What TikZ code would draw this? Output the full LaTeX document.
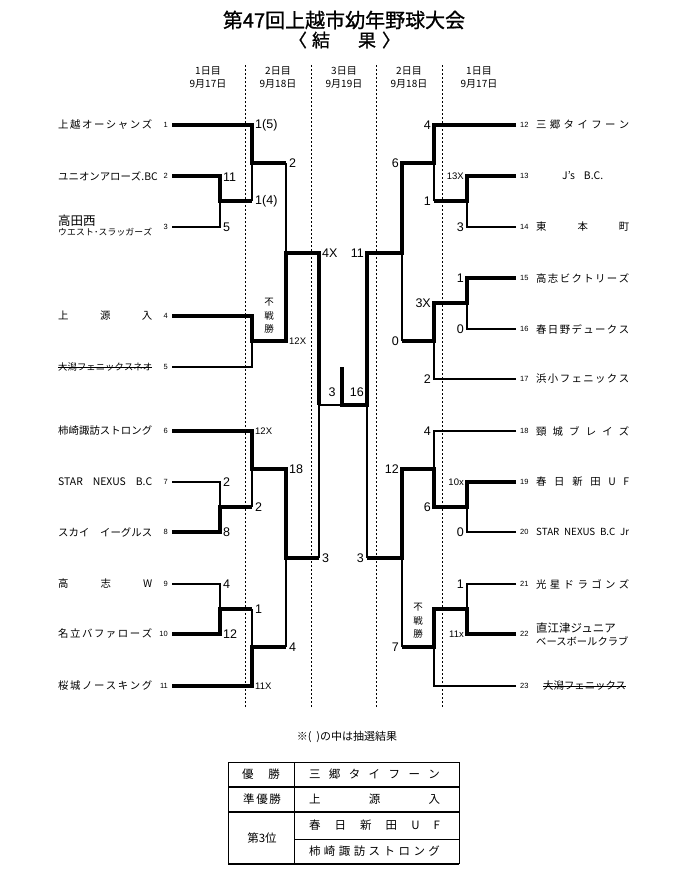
\documentclass[tikz,border=0pt]{standalone}
\usepackage{fontspec}
\setmainfont{Noto Sans CJK JP}
\newfontfamily\titlefont[FakeBold=1]{Noto Sans CJK JP}
\newfontfamily\digitfont{Liberation Sans}
\usetikzlibrary{calc}
\let\spreadend\relax
\newcommand\spreadbox[2]{\hbox to #1{\spreadnext#2\spreadend}}
\def\spreadnext#1#2\spreadend{#1\ifx\spreadend#2\spreadend\else\hfil\spreadnext#2\spreadend\fi}
\tikzset{%
    win/.style={line width=4.6pt},
    lose/.style={line width=1.2pt},
    guide/.style={line width=1pt,dash pattern=on 1.6pt off 2.4pt}
}

\begin{document}
\begin{tikzpicture}[x=1pt,y=-1pt,
        tname/.style={inner sep=0pt,font=\fontsize{10.4}{12}\selectfont},
        tnum/.style={inner sep=0pt,font=\digitfont\fontsize{7.5}{8}\selectfont},
        score/.style={inner ysep=1.5pt,inner xsep=3pt,font=\digitfont\fontsize{12.5}{13}\selectfont},
        sscore/.style={inner ysep=1.5pt,inner xsep=3pt,font=\digitfont\fontsize{9.5}{10}\selectfont},
        day/.style={align=center,font=\fontsize{10}{13}\selectfont},
        bye/.style={align=center,inner sep=0pt,font=\fontsize{9.5}{13.5}\selectfont},
        cell/.style={inner sep=0pt,font=\fontsize{11.5}{12}\selectfont},
        strike/.style={line width=0.9pt},
        tthin/.style={line width=0.9pt},
        tthick/.style={line width=1.8pt}
        ]
        \fill[white] (0,0) rectangle (692,873);
        \useasboundingbox (0,0) rectangle (692,873);

        % title
        \node[font=\titlefont\fontsize{20}{20}\selectfont] (title) at (344,20) {第47回上越市幼年野球大会};
        \node[font=\titlefont\fontsize{18}{18}\selectfont] (subtitle) at (344.5,40) {\hbox to 111pt{〈\hskip 5pt 結\hfil 果\hskip 6pt 〉}};

        \node[day] (d1) at (208,78) {1日目\\9月17日};
        \node[day] (d2) at (278,78) {2日目\\9月18日};
        \node[day] (d3) at (344,78) {3日目\\9月19日};
        \node[day] (d4) at (409,78) {2日目\\9月18日};
        \node[day] (d5) at (479,78) {1日目\\9月17日};

        \draw[guide] (245,65) -- (245,708);
        \draw[guide] (311,65) -- (311,708);
        \draw[guide] (376,65) -- (376,708);
        \draw[guide] (442,65) -- (442,708);

        % left teams
        \node[tname,anchor=west] (n1) at (58,125) {\spreadbox{94pt}{上越オーシャンズ}};
        \node[tname,anchor=west] (n2) at (58,176) {\spreadbox{94pt}{ユニオンアローズ{{.BC}}}};
        \node[tname,anchor=west,font=\fontsize{12.5}{12}\selectfont] (n3) at (58,221) {高田西};
        \node[tname,anchor=west,font=\fontsize{8.8}{9}\selectfont] (n3b) at (58,232) {\spreadbox{94pt}{ウエスト･スラッガーズ}};
        \node[tname,anchor=west] (n4) at (58,316) {\spreadbox{94pt}{上源入}};
        \node[tname,anchor=west,font=\fontsize{9.3}{10}\selectfont] (n5) at (58,367) {\spreadbox{94pt}{大潟フェニックスネオ}};
        \node[tname,anchor=west] (n6) at (58,431) {\spreadbox{94pt}{柿崎諏訪ストロング}};
        \node[tname,anchor=west] (n7) at (58,482) {\hbox to 94pt{STAR\hfil NEXUS\hfil B.C}};
        \node[tname,anchor=west] (n8) at (58,532) {\hbox to 94pt{スカイ\hfil イーグルス}};
        \node[tname,anchor=west] (n9) at (58,584) {\spreadbox{94pt}{高志W}};
        \node[tname,anchor=west] (n10) at (58,634) {\spreadbox{94pt}{名立バファローズ}};
        \node[tname,anchor=west] (n11) at (58,686) {\spreadbox{94pt}{桜城ノースキング}};
        \draw[strike] (n5.west) -- (n5.east);

        \node[tnum,anchor=east] (k1) at (168,125) {1};
        \node[tnum,anchor=east] (k2) at (168,176) {2};
        \node[tnum,anchor=east] (k3) at (168,227) {3};
        \node[tnum,anchor=east] (k4) at (168,316) {4};
        \node[tnum,anchor=east] (k5) at (168,367) {5};
        \node[tnum,anchor=east] (k6) at (168,431) {6};
        \node[tnum,anchor=east] (k7) at (168,482) {7};
        \node[tnum,anchor=east] (k8) at (168,532) {8};
        \node[tnum,anchor=east] (k9) at (168,584) {9};
        \node[tnum,anchor=east] (k10) at (168,634) {10};
        \node[tnum,anchor=east] (k11) at (168,686) {11};

        % right teams
        \node[tname,anchor=west] (n12) at (536,125) {\spreadbox{93pt}{三郷タイフーン}};
        \node[tname,anchor=west] (n13) at (536,176) {\hbox to 93pt{\hfil J's\hskip 9pt B.C.\hfil}};
        \node[tname,anchor=west] (n14) at (536,227) {\spreadbox{93pt}{東本町}};
        \node[tname,anchor=west] (n15) at (536,278) {\spreadbox{93pt}{高志ビクトリーズ}};
        \node[tname,anchor=west] (n16) at (536,329) {\spreadbox{93pt}{春日野デュークス}};
        \node[tname,anchor=west] (n17) at (536,379) {\spreadbox{93pt}{浜小フェニックス}};
        \node[tname,anchor=west] (n18) at (536,431) {\spreadbox{93pt}{頸城ブレイズ}};
        \node[tname,anchor=west] (n19) at (536,482) {\spreadbox{93pt}{春日新田UF}};
        \node[tname,anchor=west,font=\fontsize{9.8}{10}\selectfont] (n20) at (536,532) {\hbox to 93pt{STAR\hfil NEXUS\hfil B.C\hfil Jr}};
        \node[tname,anchor=west] (n21) at (536,584) {\spreadbox{93pt}{光星ドラゴンズ}};
        \node[tname,anchor=west,font=\fontsize{11.5}{11}\selectfont] (n22) at (536,628) {直江津ジュニア};
        \node[tname,anchor=west,font=\fontsize{10.3}{11}\selectfont] (n22b) at (536,641) {ベースボールクラブ};
        \node[tname,anchor=west] (n23) at (543,686) {大潟フェニックス};
        \draw[strike] (n23.west) -- (n23.east);

        \node[tnum,anchor=west] (k12) at (520,125) {12};
        \node[tnum,anchor=west] (k13) at (520,176) {13};
        \node[tnum,anchor=west] (k14) at (520,227) {14};
        \node[tnum,anchor=west] (k15) at (520,278) {15};
        \node[tnum,anchor=west] (k16) at (520,329) {16};
        \node[tnum,anchor=west] (k17) at (520,379) {17};
        \node[tnum,anchor=west] (k18) at (520,431) {18};
        \node[tnum,anchor=west] (k19) at (520,482) {19};
        \node[tnum,anchor=west] (k20) at (520,532) {20};
        \node[tnum,anchor=west] (k21) at (520,584) {21};
        \node[tnum,anchor=west] (k22) at (520,634) {22};
        \node[tnum,anchor=west] (k23) at (520,686) {23};

        % line ends and junctions
        \coordinate (L1) at (172,125);
        \coordinate (L2) at (172,176);
        \coordinate (L3) at (172,227);
        \coordinate (L4) at (172,316);
        \coordinate (L5) at (172,367);
        \coordinate (L6) at (172,431);
        \coordinate (L7) at (172,482);
        \coordinate (L8) at (172,532);
        \coordinate (L9) at (172,584);
        \coordinate (L10) at (172,634);
        \coordinate (L11) at (172,686);
        \coordinate (R12) at (516,125);
        \coordinate (R13) at (516,176);
        \coordinate (R14) at (516,227);
        \coordinate (R15) at (516,278);
        \coordinate (R16) at (516,329);
        \coordinate (R17) at (516,379);
        \coordinate (R18) at (516,431);
        \coordinate (R19) at (516,482);
        \coordinate (R20) at (516,532);
        \coordinate (R21) at (516,584);
        \coordinate (R22) at (516,634);
        \coordinate (R23) at (516,686);

        \coordinate (a23) at (220,201);
        \coordinate (b1) at (252,163);
        \coordinate (b45) at (252,341);
        \coordinate (c1) at (286,253);
        \coordinate (a78) at (220,507);
        \coordinate (b6) at (252,469);
        \coordinate (a910) at (220,609);
        \coordinate (b11) at (252,647);
        \coordinate (c2) at (286,558);
        \coordinate (sL) at (319,405);
        \coordinate (fin) at (342,405);
        \coordinate (top) at (342,367);
        \coordinate (sR) at (367,405);
        \coordinate (c3) at (402,253);
        \coordinate (b12) at (434,163);
        \coordinate (a1314) at (467,201);
        \coordinate (a1516) at (467,303);
        \coordinate (b17) at (434,341);
        \coordinate (c4) at (402,558);
        \coordinate (b18) at (434,469);
        \coordinate (a1920) at (467,507);
        \coordinate (a2122) at (467,609);
        \coordinate (b23) at (434,647);

        % losers
        \draw[lose] (L3) -| (a23);
        \draw[lose] (a23 -| b1) -- (b1);
        \draw[lose] (b1 -| c1) -- (c1);
        \draw[lose] (L5) -| (b45);
        \draw[lose] (L7) -| (a78);
        \draw[lose] (a78 -| b6) -- (b6);
        \draw[lose] (L9) -| (a910);
        \draw[lose] (a910 -| b11) -- (b11);
        \draw[lose] (b11 -| c2) -- (c2);
        \draw[lose] (sL) -- (sL |- c2);
        \draw[lose] (sL) -- (fin);
        \draw[lose] (sR) -- (sR |- c4);
        \draw[lose] (R14) -| (a1314);
        \draw[lose] (a1314 -| b12) -- (b12);
        \draw[lose] (R16) -| (a1516);
        \draw[lose] (R17) -| (b17);
        \draw[lose] (b17 -| c3) -- (c3);
        \draw[lose] (R18) -| (b18);
        \draw[lose] (R20) -| (a1920);
        \draw[lose] (R21) -| (a2122);
        \draw[lose] (R23) -| (b23);
        \draw[lose] (b23 -| c4) -- (c4);

        % winners
        \draw[win] (L1) -| (b1) -- (b1 -| c1);
        \draw[win] (L2) -| (a23) -- (a23 -| b1);
        \draw[win] (L4) -| (b45) -- (b45 -| c1) -- (c1) -- (c1 -| sL) -- (sL);
        \draw[win] (L6) -| (b6) -- (b6 -| c2) -- (c2) -- (c2 -| sL);
        \draw[win] (L8) -| (a78) -- (a78 -| b6);
        \draw[win] (L10) -| (a910) -- (a910 -| b11);
        \draw[win] (L11) -| (b11) -- (b11 -| c2);
        \draw[win] (R12) -| (b12) -- (b12 -| c3) -- (c3) -- (c3 -| sR) -- (sR) -- (fin) -- (top);
        \draw[win] (R13) -| (a1314) -- (a1314 -| b12);
        \draw[win] (R15) -| (a1516) -- (a1516 -| b17) -- (b17) -- (b17 -| c3);
        \draw[win] (R19) -| (a1920) -- (a1920 -| b18) -- (b18) -- (b18 -| c4) -- (c4) -- (c4 -| sR);
        \draw[win] (R22) -| (a2122) -- (a2122 -| b23) -- (b23) -- (b23 -| c4);

        % scores
        \node[score,anchor=west] (s1) at (252,125) {1(5)};
        \node[score,anchor=west] (s2) at (220,177) {11};
        \node[score,anchor=west] (s3) at (220,227) {5};
        \node[score,anchor=west] (s4) at (252,201) {1(4)};
        \node[score,anchor=west] (s5) at (286,163) {2};
        \node[score,anchor=west] (s6) at (319,253) {4X};
        \node[bye] (w1) at (269,316) {不\\戦\\勝};
        \node[sscore,anchor=west] (s7) at (286,341) {12X};
        \node[score] (s8) at (332,392) {3};
        \node[sscore,anchor=west] (s9) at (252,431) {12X};
        \node[score,anchor=west] (s10) at (286,469) {18};
        \node[score,anchor=west] (s11) at (220,482) {2};
        \node[score,anchor=west] (s12) at (252,507) {2};
        \node[score,anchor=west] (s13) at (220,532) {8};
        \node[score,anchor=west] (s14) at (319,558) {3};
        \node[score,anchor=west] (s15) at (220,584) {4};
        \node[score,anchor=west] (s16) at (252,609) {1};
        \node[score,anchor=west] (s17) at (220,634) {12};
        \node[score,anchor=west] (s18) at (286,647) {4};
        \node[sscore,anchor=west] (s19) at (252,686) {11X};

        \node[score,anchor=east] (s20) at (434,125) {4};
        \node[score,anchor=east] (s21) at (402,163) {6};
        \node[sscore,anchor=east] (s22) at (467,176) {13X};
        \node[score,anchor=east] (s23) at (434,201) {1};
        \node[score,anchor=east] (s24) at (467,227) {3};
        \node[score,anchor=east] (s25) at (367,253) {11};
        \node[score,anchor=east] (s26) at (467,278) {1};
        \node[score,anchor=east] (s27) at (434,303) {3X};
        \node[score,anchor=east] (s28) at (467,329) {0};
        \node[score,anchor=east] (s29) at (402,341) {0};
        \node[score,anchor=east] (s30) at (434,379) {2};
        \node[score,anchor=east] (s31) at (367,392) {16};
        \node[score,anchor=east] (s32) at (434,431) {4};
        \node[score,anchor=east] (s33) at (402,469) {12};
        \node[sscore,anchor=east] (s34) at (467,482) {10x};
        \node[score,anchor=east] (s35) at (434,507) {6};
        \node[score,anchor=east] (s36) at (467,532) {0};
        \node[score,anchor=east] (s37) at (367,558) {3};
        \node[score,anchor=east] (s38) at (467,584) {1};
        \node[sscore,anchor=east] (s39) at (467,634) {11x};
        \node[score,anchor=east] (s40) at (402,647) {7};
        \node[bye] (w2) at (418,621) {不\\戦\\勝};

        % result table
        \node[font=\fontsize{11}{11}\selectfont] (note) at (347,737) {※(\hskip 5pt)の中は抽選結果};
        \draw[tthin] (228,762) -- (459,762);
        \draw[tthin] (228,762) -- (228,864);
        \draw[tthin] (459,762) -- (459,864);
        \draw[tthin] (294,762) -- (294,864);
        \draw[tthick] (228,787) -- (459,787);
        \draw[tthick] (228,812) -- (459,812);
        \draw[tthin] (294,839) -- (459,839);
        \draw[tthick] (228,864) -- (459,864);
        \node[cell] (r1a) at (261,774.5) {\spreadbox{38pt}{優勝}};
        \node[cell] (r1b) at (374.5,774.5) {\spreadbox{131pt}{三郷タイフーン}};
        \node[cell] (r2a) at (262,799.5) {\spreadbox{38pt}{準優勝}};
        \node[cell] (r2b) at (374.5,799.5) {\spreadbox{131pt}{上源入}};
        \node[cell] (r3a) at (262,838) {第3位};
        \node[cell] (r3b) at (374.5,825.5) {\spreadbox{131pt}{春日新田UF}};
        \node[cell] (r4b) at (374.5,851.5) {\spreadbox{131pt}{柿崎諏訪ストロング}};
    \end{tikzpicture}
\end{document}
